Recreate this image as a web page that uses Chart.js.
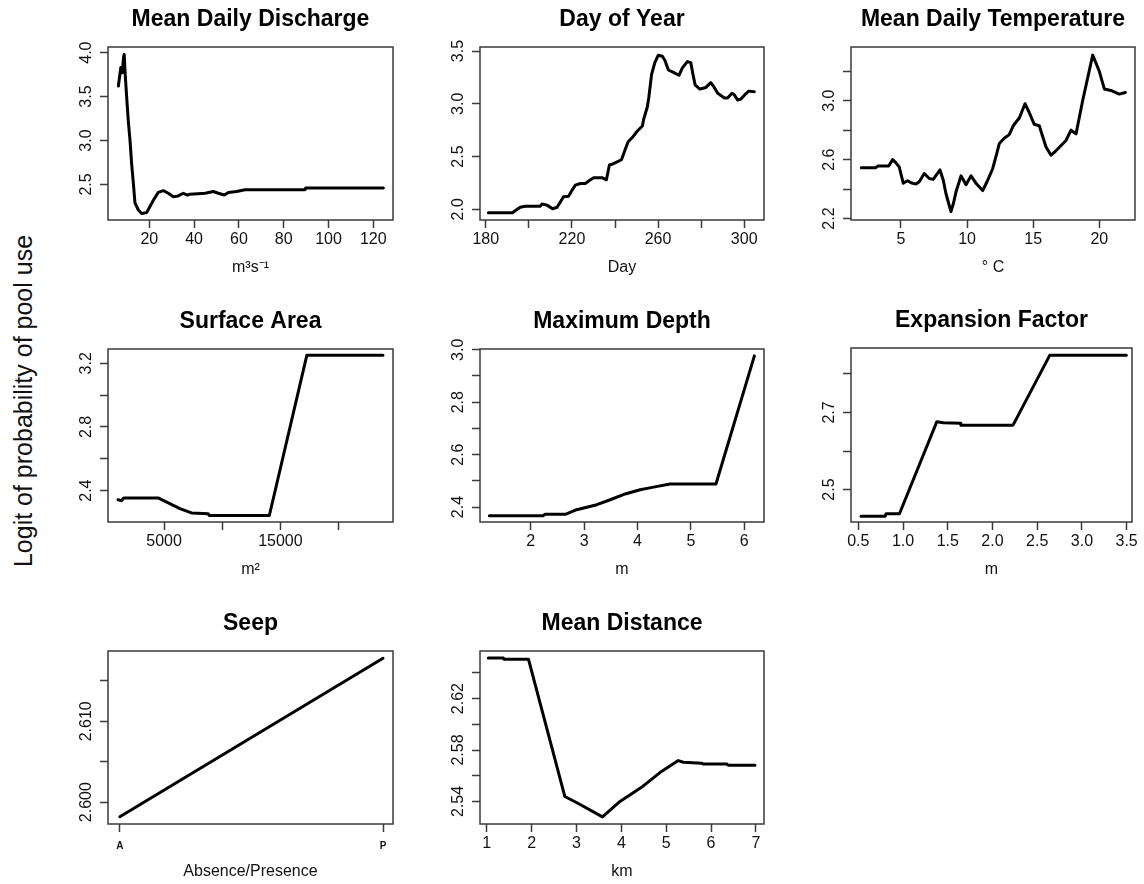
<!DOCTYPE html>
<html>
<head>
<meta charset="utf-8">
<script src="https://cdn.jsdelivr.net/npm/chart.js@4.4.1/dist/chart.umd.min.js"></script>
<style>
  html, body { margin: 0; padding: 0; background: #fff; width: 1144px; height: 884px; overflow: hidden; }
  canvas { position: absolute; }
  #ylab {
    position: absolute; left: 23px; top: 401px;
    transform: translate(-50%, -50%) rotate(-90deg);
    font: 25px "Liberation Sans", Arial, Helvetica, sans-serif;
    white-space: nowrap; color: #111;
  }
</style>
</head>
<body>
<div id="ylab">Logit of probability of pool use</div>
<script>
// ---- Partial-dependence curves (x = predictor value, y = logit) ----
const dischargeX = [6.2, 6.9, 7.3, 7.9, 8.5, 8.8, 9.2, 9.9, 10.6, 11.4, 12.1, 12.9, 13.6, 15.1, 16.6, 18.8, 20.3, 21.8, 24.0, 26.3, 28.5, 30.7, 32.9, 35.2, 37.1, 38.2, 44.9, 48.6, 50.8, 53.5, 55.3, 59.0, 62.7, 89.5, 89.8, 124.5];
const dischargeY = [3.62, 3.76, 3.83, 3.77, 3.95, 3.98, 3.77, 3.49, 3.23, 3.00, 2.74, 2.51, 2.29, 2.21, 2.17, 2.18, 2.25, 2.32, 2.41, 2.43, 2.40, 2.36, 2.37, 2.40, 2.38, 2.39, 2.40, 2.42, 2.40, 2.38, 2.41, 2.42, 2.44, 2.44, 2.46, 2.46];

const dayX = [181.2, 192.4, 193.6, 196.0, 198.3, 205.3, 206.1, 208.4, 211.0, 213.1, 214.6, 216.1, 218.5, 220.0, 221.6, 223.9, 226.2, 228.6, 230.1, 234.0, 236.0, 237.4, 239.0, 241.0, 243.0, 244.6, 246.1, 248.0, 250.3, 252.7, 253.4, 255.0, 255.7, 257.0, 258.5, 260.1, 262.0, 263.2, 264.8, 266.9, 269.7, 271.3, 273.6, 275.2, 276.2, 277.2, 279.4, 282.2, 284.5, 286.1, 287.7, 290.8, 292.3, 294.3, 295.4, 297.0, 298.5, 300.5, 302.1, 304.7];
const dayY = [1.968, 1.968, 1.987, 2.02, 2.03, 2.03, 2.05, 2.04, 2.006, 2.02, 2.07, 2.12, 2.125, 2.18, 2.23, 2.245, 2.245, 2.28, 2.30, 2.30, 2.28, 2.42, 2.43, 2.45, 2.47, 2.56, 2.64, 2.68, 2.74, 2.79, 2.86, 2.97, 3.06, 3.28, 3.39, 3.46, 3.45, 3.41, 3.32, 3.30, 3.27, 3.34, 3.40, 3.39, 3.28, 3.18, 3.14, 3.155, 3.20, 3.155, 3.10, 3.055, 3.055, 3.10, 3.085, 3.035, 3.045, 3.09, 3.12, 3.115];

const tempX = [2.0, 3.1, 3.24, 4.07, 4.37, 4.62, 4.87, 5.17, 5.50, 5.76, 6.13, 6.38, 6.76, 7.14, 7.44, 7.95, 8.2, 8.40, 8.78, 8.96, 9.16, 9.54, 9.92, 10.30, 10.67, 11.18, 11.56, 11.94, 12.24, 12.44, 12.81, 13.19, 13.49, 13.95, 14.38, 14.70, 15.08, 15.46, 15.97, 16.35, 16.72, 17.48, 17.86, 18.24, 18.74, 19.50, 20.0, 20.38, 20.88, 21.51, 21.97];
const tempY = [2.545, 2.545, 2.557, 2.557, 2.60, 2.578, 2.55, 2.44, 2.457, 2.443, 2.434, 2.45, 2.506, 2.472, 2.466, 2.53, 2.46, 2.37, 2.247, 2.30, 2.38, 2.49, 2.43, 2.49, 2.44, 2.39, 2.46, 2.54, 2.64, 2.71, 2.745, 2.77, 2.83, 2.883, 2.98, 2.92, 2.84, 2.83, 2.686, 2.63, 2.66, 2.73, 2.80, 2.775, 3.0, 3.31, 3.20, 3.08, 3.07, 3.045, 3.056];

const areaX = [1035, 1328, 1526, 4483, 4914, 5491, 6353, 7362, 8793, 8879, 14051, 17275, 23826];
const areaY = [2.343, 2.337, 2.354, 2.354, 2.339, 2.318, 2.287, 2.26, 2.255, 2.244, 2.244, 3.25, 3.25];

const depthX = [1.225, 2.236, 2.27, 2.66, 2.86, 3.24, 3.49, 3.77, 4.05, 4.30, 4.61, 5.47, 6.19];
const depthY = [2.367, 2.367, 2.373, 2.373, 2.39, 2.409, 2.428, 2.45, 2.466, 2.476, 2.488, 2.488, 2.977];

const expansionX = [0.53, 0.80, 0.81, 0.96, 1.378, 1.45, 1.64, 1.647, 2.23, 2.64, 3.497];
const expansionY = [2.431, 2.431, 2.4375, 2.4375, 2.676, 2.673, 2.672, 2.667, 2.667, 2.848, 2.848];

const seepCategories = ['A', 'P'];
const seepX = [1, 2];
const seepY = [2.5982, 2.6178];

const distanceX = [1.036, 1.37, 1.385, 1.93, 2.74, 3.00, 3.58, 3.97, 4.45, 4.86, 5.27, 5.38, 5.79, 5.82, 6.35, 6.38, 6.98];
const distanceY = [2.6516, 2.6516, 2.6506, 2.6506, 2.5439, 2.5392, 2.528, 2.540, 2.551, 2.5625, 2.5718, 2.5705, 2.5698, 2.5692, 2.5692, 2.5682, 2.5682];

// ---- Tick positions and their printed labels ('' = tick mark only) ----
const dischargeXTicks = [20, 40, 60, 80, 100, 120];
const dischargeXLabels = ['20', '40', '60', '80', '100', '120'];
const dischargeYTicks = [2.5, 3.0, 3.5, 4.0];
const dischargeYLabels = ['2.5', '3.0', '3.5', '4.0'];

const dayXTicks = [180, 200, 220, 240, 260, 280, 300];
const dayXLabels = ['180', '', '220', '', '260', '', '300'];
const dayYTicks = [2.0, 2.5, 3.0, 3.5];
const dayYLabels = ['2.0', '2.5', '3.0', '3.5'];

const tempXTicks = [5, 10, 15, 20];
const tempXLabels = ['5', '10', '15', '20'];
const tempYTicks = [2.2, 2.4, 2.6, 2.8, 3.0, 3.2];
const tempYLabels = ['2.2', '', '2.6', '', '3.0', ''];

const areaXTicks = [5000, 10000, 15000, 20000];
const areaXLabels = ['5000', '', '15000', ''];
const areaYTicks = [2.4, 2.6, 2.8, 3.0, 3.2];
const areaYLabels = ['2.4', '', '2.8', '', '3.2'];

const depthXTicks = [2, 3, 4, 5, 6];
const depthXLabels = ['2', '3', '4', '5', '6'];
const depthYTicks = [2.4, 2.5, 2.6, 2.7, 2.8, 2.9, 3.0];
const depthYLabels = ['2.4', '', '2.6', '', '2.8', '', '3.0'];

const expansionXTicks = [0.5, 1.0, 1.5, 2.0, 2.5, 3.0, 3.5];
const expansionXLabels = ['0.5', '1.0', '1.5', '2.0', '2.5', '3.0', '3.5'];
const expansionYTicks = [2.5, 2.6, 2.7, 2.8];
const expansionYLabels = ['2.5', '', '2.7', ''];

const seepXTicks = [1, 2];
const seepYTicks = [2.600, 2.605, 2.610, 2.615];
const seepYLabels = ['2.600', '', '2.610', ''];

const distanceXTicks = [1, 2, 3, 4, 5, 6, 7];
const distanceXLabels = ['1', '2', '3', '4', '5', '6', '7'];
const distanceYTicks = [2.54, 2.56, 2.58, 2.60, 2.62, 2.64];
const distanceYLabels = ['2.54', '', '2.58', '', '2.62', ''];

// ---- Panel layout: plot box [left, top, right, bottom] in page pixels ----
const FONT = '"Liberation Sans", Arial, Helvetica, sans-serif';
const INK = '#111';
const FRAME = '#3a3a3a';

const panels = [
  { title: 'Mean Daily Discharge', xTitle: 'm\u00B3s\u207B\u00B9', xs: dischargeX, ys: dischargeY,
    xTicks: dischargeXTicks, xLabels: dischargeXLabels, yTicks: dischargeYTicks, yLabels: dischargeYLabels,
    xMin: 1.56, xMax: 128.8, yMin: 2.096, yMax: 4.064, box: [108, 47, 393, 220] },
  { title: 'Day of Year', xTitle: 'Day', xs: dayX, ys: dayY,
    xTicks: dayXTicks, xLabels: dayXLabels, yTicks: dayYTicks, yLabels: dayYLabels,
    xMin: 177.3, xMax: 309.2, yMin: 1.899, yMax: 3.538, box: [480, 47, 764, 220] },
  { title: 'Mean Daily Temperature', xTitle: '\u00B0 C', xs: tempX, ys: tempY,
    xTicks: tempXTicks, xLabels: tempXLabels, yTicks: tempYTicks, yLabels: tempYLabels,
    xMin: 1.22, xMax: 22.7, yMin: 2.19, yMax: 3.365, box: [851, 47, 1135, 220], rightPad: 8 },
  { title: 'Surface Area', xTitle: 'm\u00B2', xs: areaX, ys: areaY,
    xTicks: areaXTicks, xLabels: areaXLabels, yTicks: areaYTicks, yLabels: areaYLabels,
    xMin: 173, xMax: 24688, yMin: 2.203, yMax: 3.29, box: [108, 349, 393, 522] },
  { title: 'Maximum Depth', xTitle: 'm', xs: depthX, ys: depthY,
    xTicks: depthXTicks, xLabels: depthXLabels, yTicks: depthYTicks, yLabels: depthYLabels,
    xMin: 1.05, xMax: 6.37, yMin: 2.343, yMax: 3.003, box: [480, 349, 764, 522] },
  { title: 'Expansion Factor', xTitle: 'm', xs: expansionX, ys: expansionY,
    xTicks: expansionXTicks, xLabels: expansionXLabels, yTicks: expansionYTicks, yLabels: expansionYLabels,
    xMin: 0.418, xMax: 3.56, yMin: 2.416, yMax: 2.867, box: [851, 348, 1132, 522], rightPad: 10 },
  { title: 'Seep', xTitle: 'Absence/Presence', xs: seepX, ys: seepY,
    xTicks: seepXTicks, xLabels: seepCategories, yTicks: seepYTicks, yLabels: seepYLabels,
    xMin: 0.955, xMax: 2.038, yMin: 2.5973, yMax: 2.6187, box: [108, 651, 393, 824],
    xTickFont: { family: FONT, size: 10, weight: 'bold' }, xTickPad: 8.4 },
  { title: 'Mean Distance', xTitle: 'km', xs: distanceX, ys: distanceY,
    xTicks: distanceXTicks, xLabels: distanceXLabels, yTicks: distanceYTicks, yLabels: distanceYLabels,
    xMin: 0.85, xMax: 7.18, yMin: 2.5225, yMax: 2.657, box: [480, 651, 764, 824] }
];

const Y_AXIS_W = 60;   // space left of the plot box
const TITLE_H = 46;    // space above the plot box
const X_AXIS_H = 62;   // space below the plot box

// Plot frame drawn around the chart area
const framePlugin = {
  id: 'frame',
  afterDraw(chart) {
    const { ctx, chartArea: a } = chart;
    ctx.save();
    ctx.strokeStyle = FRAME;
    ctx.lineWidth = 1.5;
    ctx.strokeRect(a.left, a.top, a.right - a.left, a.bottom - a.top);
    ctx.restore();
  }
};

// Y tick labels written parallel to the axis (reading bottom to top)
function rotatedYLabels(labels) {
  return {
    id: 'rotatedYLabels',
    afterDraw(chart) {
      const s = chart.scales.y;
      const ctx = chart.ctx;
      ctx.save();
      ctx.font = '16px ' + FONT;
      ctx.fillStyle = INK;
      ctx.textAlign = 'center';
      ctx.textBaseline = 'alphabetic';
      s.ticks.forEach((t, i) => {
        const lab = labels[i];
        if (!lab) return;
        const py = s.getPixelForValue(t.value);
        ctx.save();
        ctx.translate(chart.chartArea.left - 17, py);
        ctx.rotate(-Math.PI / 2);
        ctx.fillText(lab, 0, 0);
        ctx.restore();
      });
      ctx.restore();
    }
  };
}

panels.forEach(p => {
  const [l, t, r, b] = p.box;
  const rp = p.rightPad !== undefined ? p.rightPad : 12;
  const canvas = document.createElement('canvas');
  canvas.width = (r - l) + Y_AXIS_W + rp;
  canvas.height = TITLE_H + (b - t) + X_AXIS_H;
  canvas.style.left = (l - Y_AXIS_W) + 'px';
  canvas.style.top = (t - TITLE_H) + 'px';
  document.body.appendChild(canvas);

  const gridOpts = {
    drawOnChartArea: false, drawTicks: true, tickLength: 8,
    tickColor: FRAME, tickWidth: 1.5, color: FRAME
  };

  new Chart(canvas, {
    type: 'line',
    data: {
      datasets: [{
        data: p.xs.map((x, i) => ({ x: x, y: p.ys[i] })),
        borderColor: '#000',
        borderWidth: 3,
        pointRadius: 0,
        tension: 0,
        fill: false,
        borderJoinStyle: 'round',
        borderCapStyle: 'round'
      }]
    },
    options: {
      responsive: false,
      animation: false,
      devicePixelRatio: 1,
      layout: { padding: { left: 0, right: rp, top: 0, bottom: 0 } },
      plugins: {
        legend: { display: false },
        tooltip: { enabled: false },
        title: {
          display: true, text: p.title, color: '#000', fullSize: false,
          font: { family: FONT, size: 23, weight: 'bold', lineHeight: 1.2 },
          padding: { top: 4.5, bottom: 13.9 }
        }
      },
      scales: {
        x: {
          type: 'linear', min: p.xMin, max: p.xMax,
          afterBuildTicks: s => { s.ticks = p.xTicks.map(v => ({ value: v })); },
          afterFit: s => { s.height = X_AXIS_H; },
          grid: gridOpts,
          border: { display: false },
          ticks: {
            autoSkip: false, minRotation: 0, maxRotation: 0,
            padding: p.xTickPad !== undefined ? p.xTickPad : 2.4,
            font: p.xTickFont || { family: FONT, size: 16 },
            color: INK,
            callback: (v, i) => p.xLabels[i]
          },
          title: {
            display: true, text: p.xTitle, color: INK,
            font: { family: FONT, size: 16, lineHeight: 1.2 },
            padding: { top: 0, bottom: 4.9 }
          }
        },
        y: {
          type: 'linear', min: p.yMin, max: p.yMax,
          afterBuildTicks: s => { s.ticks = p.yTicks.map(v => ({ value: v })); },
          afterFit: s => { s.width = Y_AXIS_W; },
          grid: gridOpts,
          border: { display: false },
          ticks: { display: false }
        }
      }
    },
    plugins: [framePlugin, rotatedYLabels(p.yLabels)]
  });
});
</script>
</body>
</html>
